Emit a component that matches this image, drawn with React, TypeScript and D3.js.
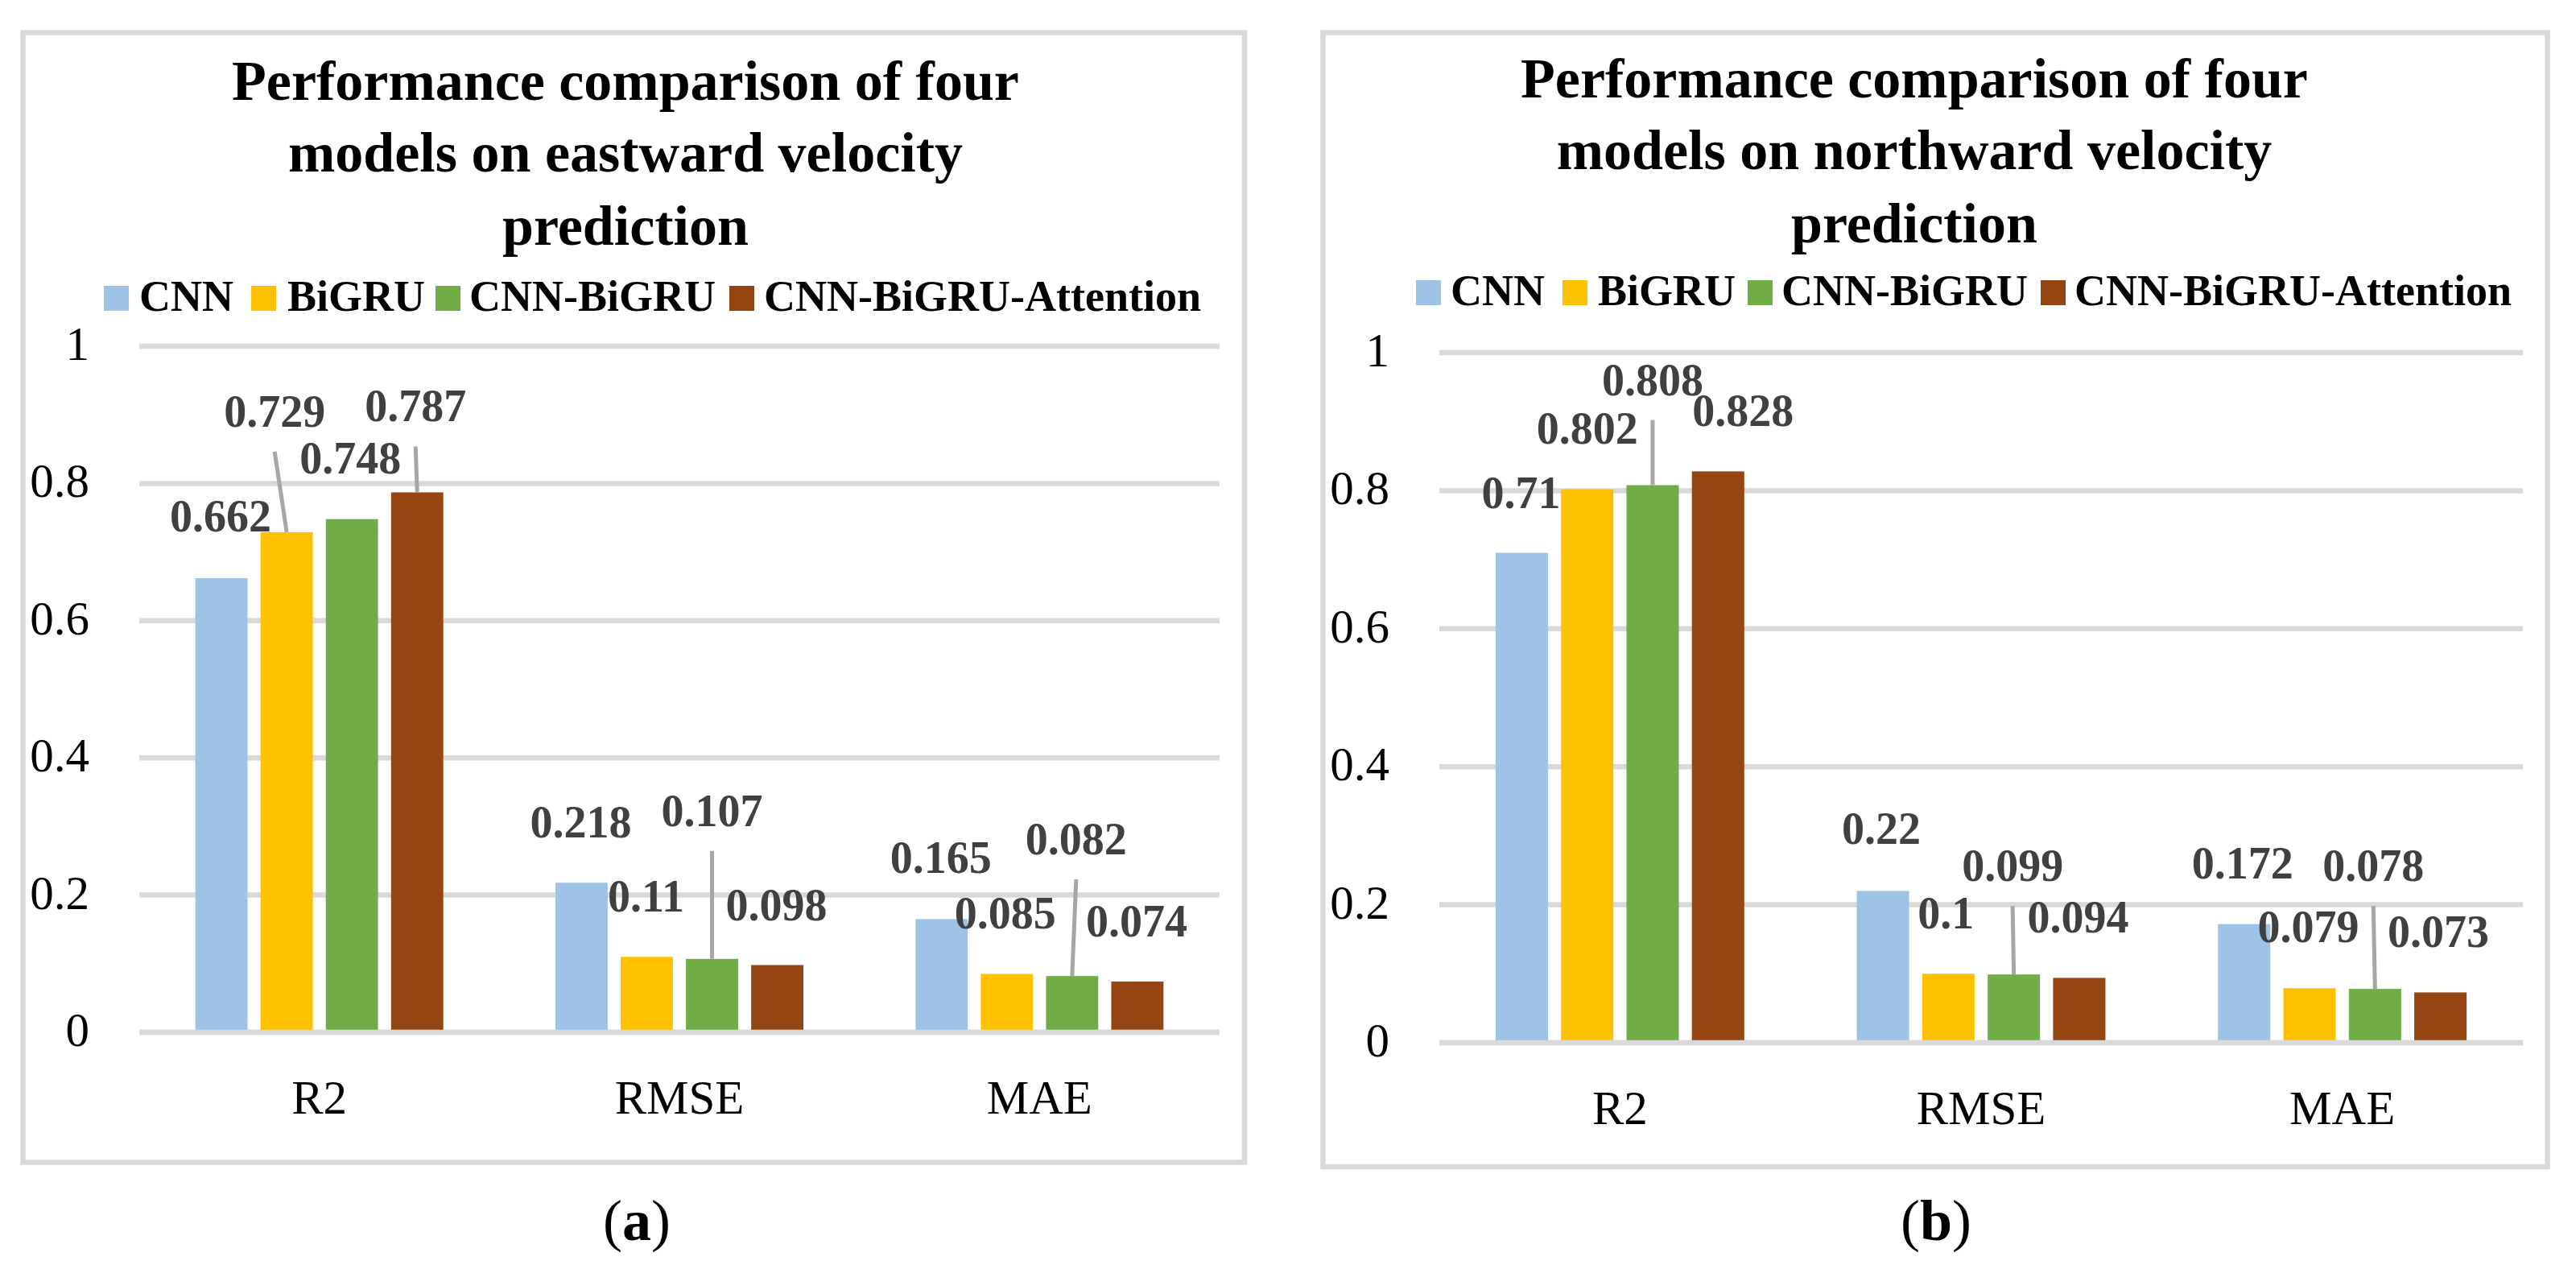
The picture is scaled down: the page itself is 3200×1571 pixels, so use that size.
import React from 'react';
import * as d3 from 'd3';

// Data
const metrics = ['R2', 'RMSE', 'MAE'];
const models = ['CNN', 'BiGRU', 'CNN-BiGRU', 'CNN-BiGRU-Attention'];
const yTicks = [0, 0.2, 0.4, 0.6, 0.8, 1];

// eastward velocity, per model: [R2, RMSE, MAE]
const eastCNN = [0.662, 0.218, 0.165];
const eastBiGRU = [0.729, 0.11, 0.085];
const eastCnnBiGRU = [0.748, 0.107, 0.082];
const eastAttention = [0.787, 0.098, 0.074];

// northward velocity
const northCNN = [0.71, 0.22, 0.172];
const northBiGRU = [0.802, 0.1, 0.079];
const northCnnBiGRU = [0.808, 0.099, 0.078];
const northAttention = [0.828, 0.094, 0.073];

const colors = ['#9dc3e6', '#ffc000', '#70ad47', '#944511'];

// label nudges [dx, dy] from bar centre / bar top, per metric then model
const eastNudge = [
  [[-1, -58], [-15, -131], [-2, -57], [-2, -88]],
  [[-1, -56], [-1, -56], [0, -165], [-1, -56]],
  [[-1, -57], [-2, -57], [5, -151], [-1, -56]],
];
const northNudge = [
  [[-1, -56], [0, -57], [0, -112], [31, -56]],
  [[-2, -58], [-3, -56], [-1.5, -116], [-1.5, -56]],
  [[-2, -57], [-1.5, -57], [-2, -134], [-2.5, -56]],
];

const panels = [
  {
    title: ['Performance comparison of four', 'models on eastward velocity', 'prediction'],
    series: [eastCNN, eastBiGRU, eastCnnBiGRU, eastAttention],
    nudge: eastNudge,
    border: { x1: 28.5, y1: 40.5, x2: 1546, y2: 1443.5 },
    plot: { left: 173, right: 1515, bottom: 1282, top: 430 },
    titleX: 777, titleY: [124, 213, 304],
    legendTop: 355,
    legendSq: [129, 312, 541, 906],
    legendTx: [173, 357, 583, 949],
    captionX: 791, caption: 'a',
  },
  {
    title: ['Performance comparison of four', 'models on northward velocity', 'prediction'],
    series: [northCNN, northBiGRU, northCnnBiGRU, northAttention],
    nudge: northNudge,
    border: { x1: 1643.5, y1: 40.5, x2: 3164.5, y2: 1449 },
    plot: { left: 1788, right: 3134, bottom: 1295, top: 438 },
    titleX: 2378, titleY: [121, 210, 301],
    legendTop: 348,
    legendSq: [1759, 1941, 2171, 2535],
    legendTx: [1802, 1985, 2213, 2577],
    captionX: 2405, caption: 'b',
  },
];

const serif = '"Liberation Serif", "Times New Roman", serif';
const grid = '#d9d9d9';

const Panel = ({ p }: { p: typeof panels[number] }) => {
  const y = d3.scaleLinear().domain([0, 1]).range([p.plot.bottom, p.plot.top]);
  const x0 = d3.scaleBand().domain(metrics).range([p.plot.left, p.plot.right]);
  const x1 = d3.scaleBand().domain(models).range([0, x0.bandwidth()]).paddingInner(0.2).paddingOuter(0.86);
  const bw = x1.bandwidth();

  return (
    <g>
      <rect x={p.border.x1} y={p.border.y1} width={p.border.x2 - p.border.x1} height={p.border.y2 - p.border.y1}
        fill="#fff" stroke={grid} strokeWidth={6.5} />

      {p.title.map((t, i) => (
        <text key={t} x={p.titleX} y={p.titleY[i]} textAnchor="middle" fontFamily={serif} fontWeight="bold" fontSize={70}>{t}</text>
      ))}

      {models.map((m, i) => (
        <g key={m}>
          <rect x={p.legendSq[i]} y={p.legendTop} width={31} height={31} fill={colors[i]} />
          <text x={p.legendTx[i]} y={p.legendTop + 31} fontFamily={serif} fontWeight="bold" fontSize={54}>{m}</text>
        </g>
      ))}

      {yTicks.map(t => (
        <g key={t}>
          <line x1={p.plot.left} x2={p.plot.right} y1={y(t)} y2={y(t)} stroke={grid} strokeWidth={6.5} />
          <text x={p.plot.left - 62} y={y(t) + 17} textAnchor="end" fontFamily={serif} fontSize={59}>{String(t)}</text>
        </g>
      ))}

      {metrics.map((met, mi) => (
        <g key={met}>
          {models.map((mod, si) => {
            const v = p.series[si][mi];
            const bx = x0(met)! + x1(mod)!;
            return <rect key={mod} x={bx} y={y(v)} width={bw} height={y(0) - 3 - y(v)} fill={colors[si]} />;
          })}
          <text x={x0(met)! + x0.bandwidth() / 2} y={y(0) + 101} textAnchor="middle" fontFamily={serif} fontSize={59}>{met}</text>
        </g>
      ))}

      <line x1={p.plot.left} x2={p.plot.right} y1={y(0)} y2={y(0)} stroke={grid} strokeWidth={6.5} />

      {metrics.map((met, mi) => models.map((mod, si) => {
        const v = p.series[si][mi];
        const cx = x0(met)! + x1(mod)! + bw / 2;
        const [dx, dy] = p.nudge[mi][si];
        const lx = cx + dx, ly = y(v) + dy;
        return (
          <g key={met + mod}>
            {dy < -80 && (
              <line x1={lx} y1={ly + 31} x2={cx} y2={y(v)} stroke="#a6a6a6" strokeWidth={5} />
            )}
            <text x={lx} y={ly} textAnchor="middle" fontFamily={serif} fontWeight="bold" fontSize={56} fill="#404040">{String(v)}</text>
          </g>
        );
      }))}

      <text x={p.captionX} y={1540} textAnchor="middle" fontFamily={serif} fontSize={72}>
        (<tspan fontWeight="bold">{p.caption}</tspan>)
      </text>
    </g>
  );
};

export default function App() {
  return (
    <svg width={3200} height={1571} viewBox="0 0 3200 1571" style={{ position: 'absolute', left: 0, top: 0, background: '#fff' }}>
      <rect width={3200} height={1571} fill="#fff" />
      {panels.map(p => <Panel key={p.caption} p={p} />)}
    </svg>
  );
}
